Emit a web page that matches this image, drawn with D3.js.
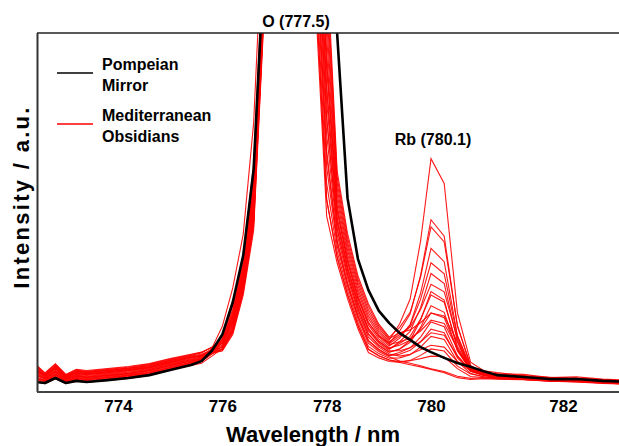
<!DOCTYPE html>
<html>
<head>
<meta charset="utf-8">
<script src="https://cdn.jsdelivr.net/npm/d3@7"></script>
<style>
  body { margin: 0; background: #fff; }
  text { font-family: Arial, "Liberation Sans", sans-serif; font-weight: bold; fill: #000; }
</style>
</head>
<body>
<div id="chart"></div>
<script>
// wavelength grid (nm)
const wavelength = [772.4, 772.6, 772.8, 773.0, 773.2, 773.4, 773.8, 774.2, 774.6, 775.0, 775.4, 775.6, 775.8,
  776.0, 776.2, 776.4, 776.6, 776.8, 777.0, 777.5, 777.8, 778.0, 778.2, 778.4, 778.6, 778.8, 779.0, 779.2,
  779.4, 779.6, 779.8, 780.0, 780.2, 780.4, 780.6, 780.8, 781.0, 781.4, 781.8, 782.2, 782.6, 783.0];

// Pompeian mirror spectrum
const mirror = [2.8, 2.5, 3.9, 2.5, 3.1, 2.8, 3.3, 3.9, 4.7, 6.1, 7.5, 8.6, 11.5,
  16, 25, 38, 62, 120, 220, 400, 230, 160, 100, 54, 37, 28.4, 22.6, 19.2,
  16.4, 14.5, 12.5, 11.1, 9.5, 8.1, 7.0, 5.8, 4.7, 4.2, 3.6, 3.6, 3.1, 2.8];

// Mediterranean obsidian spectra
const obsidians = [
  [5.4, 3.9, 5.9, 3.7, 4.7, 4.4, 4.9, 5.5, 6.3, 7.7, 9.0, 9.9, 12.0, 15.3, 23, 36.1, 61.1, 122.5, 250, 400, 171.5, 112.7, 58.4, 41.8, 30.5, 22.9, 17.8, 14.5, 19, 25.9, 42, 65, 58.1, 22.1, 8.3, 5.9, 5.4, 4.6, 3.9, 3.8, 3.4, 3.0],
  [7.4, 5.0, 7.4, 4.6, 5.9, 5.6, 6.1, 6.7, 7.5, 8.9, 10.2, 10.9, 12.5, 14.6, 21, 33.5, 56.5, 117.5, 250, 400, 162, 103.6, 55.2, 39.6, 28.6, 21.2, 16.6, 13.6, 17, 21.7, 32.5, 48, 43.4, 18.3, 7.4, 5.4, 5.1, 4.9, 4.0, 4.2, 3.6, 3.3],
  [4.1, 3.2, 4.9, 3.1, 3.9, 3.6, 4.1, 4.7, 5.5, 6.9, 8.2, 9.2, 11.7, 15.6, 24, 37.4, 63.4, 125, 250, 400, 181, 121.8, 61.6, 44.1, 32.3, 24.6, 18.9, 15.3, 18, 22.2, 32, 46, 41.8, 18.6, 7.2, 5.3, 5.0, 4.4, 3.7, 3.5, 3.2, 2.7],
  [6.4, 4.5, 6.7, 4.2, 5.3, 5.0, 5.5, 6.1, 6.9, 8.3, 9.6, 10.2, 11.9, 13.7, 20, 32.2, 54.2, 115, 250, 400, 152.5, 94.5, 52, 37.3, 26.8, 19.5, 15.4, 12.8, 15, 18.8, 27.5, 40, 36.3, 15.8, 7.0, 5.3, 4.8, 4.5, 3.9, 3.6, 3.4, 3.1],
  [8.0, 5.3, 7.9, 4.9, 6.3, 6.0, 6.5, 7.1, 7.9, 9.3, 10.5, 11.1, 12.4, 13.5, 19, 30.9, 51.9, 112.5, 250, 400, 143, 85.4, 48.8, 35, 25, 17.8, 14.2, 11.9, 14, 16.9, 23.5, 33, 30.2, 14.1, 6.6, 5.1, 4.9, 4.3, 4.1, 3.7, 3.3, 3.2],
  [4.8, 3.6, 5.4, 3.4, 4.3, 4.0, 4.5, 5.1, 5.9, 7.3, 8.6, 9.4, 11.5, 14.6, 22, 34.8, 58.8, 120, 250, 400, 166.8, 108.2, 56.8, 40.7, 29.6, 22.1, 17.2, 14, 16, 18.1, 23, 30, 27.9, 14.9, 6.3, 4.9, 4.4, 4.0, 3.4, 3.8, 3.0, 2.6],
  [6.7, 4.6, 6.9, 4.3, 5.5, 5.2, 5.7, 6.3, 7.1, 8.5, 9.7, 10.2, 11.5, 12.6, 18, 29.6, 49.6, 110, 250, 400, 133.5, 76.3, 45.6, 32.8, 23.1, 16.1, 13, 11.1, 12, 13.8, 18, 24, 22.2, 11.4, 6.2, 4.9, 4.6, 4.2, 3.3, 3.4, 2.9, 2.5],
  [3.5, 2.9, 4.4, 2.8, 3.5, 3.2, 3.7, 4.3, 5.1, 6.5, 7.8, 8.5, 10.7, 13.7, 21, 33.5, 56.5, 117.5, 250, 400, 147.8, 90, 50.4, 36.2, 25.9, 18.7, 14.8, 12.3, 13, 14.4, 17.5, 22, 20.7, 11.8, 6.0, 4.8, 4.3, 3.9, 3.2, 3.3, 2.8, 2.4],
  [6.1, 4.3, 6.4, 4.0, 5.1, 4.8, 5.3, 5.9, 6.7, 8.1, 9.2, 9.7, 11.0, 11.9, 17, 28.3, 47.3, 107.5, 250, 400, 124, 67.2, 42.4, 30.5, 21.3, 14.4, 11.9, 10.2, 11, 12.3, 15.3, 19.5, 18.2, 10.1, 6.0, 4.8, 4.2, 3.8, 3.5, 3.1, 3.0, 2.9],
  [4.4, 3.3, 5.1, 3.2, 4.1, 3.8, 4.3, 4.9, 5.7, 7.1, 8.3, 9.1, 11.2, 14.2, 21.5, 34.2, 57.7, 118.8, 250, 400, 157.3, 99, 53.6, 38.4, 27.7, 20.4, 16, 13.2, 14, 14.9, 17, 20, 19.1, 12.1, 5.9, 4.7, 4.5, 4.1, 3.6, 3.2, 3.1, 2.7],
  [7.0, 4.7, 7.1, 4.4, 5.7, 5.4, 5.9, 6.5, 7.3, 8.7, 9.8, 10.2, 11.2, 11.5, 16, 27, 45, 105, 250, 400, 114.5, 58.1, 39.2, 28.3, 19.4, 12.7, 10.7, 9.4, 9.5, 10.4, 12.5, 15.5, 14.6, 8.5, 5.9, 4.7, 4.1, 3.6, 3.1, 3.0, 2.6, 2.6],
  [3.8, 3.1, 4.7, 3.0, 3.7, 3.4, 3.9, 4.5, 5.3, 6.7, 7.9, 8.6, 10.6, 12.8, 19.5, 31.6, 53, 113.8, 250, 400, 138.3, 80.9, 47.2, 33.9, 24, 17, 13.6, 11.5, 11.5, 12.3, 14, 16.5, 15.8, 10, 5.8, 4.6, 4.0, 3.7, 3.4, 3.0, 2.7, 2.3],
  [5.7, 4.0, 6.1, 3.8, 4.9, 4.6, 5.1, 5.7, 6.5, 7.9, 9.0, 9.4, 10.7, 11.5, 16.5, 27.7, 46.2, 106.3, 250, 400, 105, 49, 36, 26, 17.6, 11, 9.5, 8.5, 8.3, 8.8, 10.2, 12, 11.4, 7.2, 5.0, 4.3, 3.9, 3.5, 3.0, 2.9, 2.5, 2.2],
  [3.1, 2.6, 4.1, 2.6, 3.3, 3.0, 3.5, 4.1, 4.9, 6.3, 7.4, 8.0, 10.0, 12.1, 18.5, 30.3, 50.8, 111.3, 250, 400, 128.8, 71.8, 44, 31.7, 22.2, 15.3, 12.5, 10.6, 10, 10.5, 11.8, 13, 12.5, 8.5, 5.2, 4.2, 3.8, 3.6, 3.3, 3.1, 2.7, 2.5],
  [5.1, 3.8, 5.7, 3.6, 4.5, 4.2, 4.7, 5.3, 6.1, 7.5, 8.7, 9.2, 10.7, 11.9, 17.5, 29, 48.5, 108.8, 250, 400, 109.8, 53.6, 37.6, 27.1, 18.5, 11.9, 10.1, 8.9, 8.2, 7.6, 7.0, 6.3, 5.4, 4.0, 3.5, 3.7, 3.6, 3.4, 3.0, 2.8, 2.4, 2.1],
  [2.9, 2.3, 3.7, 2.4, 3.0, 2.7, 3.2, 3.8, 4.6, 6.1, 7.6, 8.9, 12.2, 18.3, 29, 43.9, 74.9, 137.5, 250, 400, 119.3, 62.7, 40.8, 29.4, 20.4, 13.6, 11.3, 9.8, 8.6, 8.0, 7.3, 6.5, 5.7, 4.4, 3.8, 3.9, 3.7, 3.5, 3.1, 2.9, 2.5, 2.2],
  [7.7, 5.2, 7.7, 4.8, 6.1, 5.8, 6.3, 6.9, 7.7, 9.1, 10.4, 11.0, 12.5, 14.0, 20, 32.2, 54.2, 115, 250, 400, 150, 92, 51, 36.5, 26.2, 19.2, 15.6, 13.5, 15.5, 18.6, 25.8, 36, 32.9, 15.5, 6.7, 5.1, 4.9, 4.4, 4.0, 3.8, 3.3, 3.0],
  [6.2, 4.3, 6.5, 4.1, 5.2, 4.9, 5.4, 6.0, 6.8, 8.2, 9.4, 10.0, 11.5, 13.1, 19, 30.9, 51.9, 112.5, 250, 400, 141, 84, 48, 34.5, 24.6, 17.5, 14, 12, 13.5, 15.5, 20.3, 27, 25, 12.8, 6.3, 4.9, 4.6, 4.2, 3.6, 3.5, 3.1, 2.8],
  [4.9, 3.6, 5.5, 3.5, 4.4, 4.1, 4.6, 5.2, 6.0, 7.4, 8.6, 9.3, 11.3, 13.7, 20.5, 32.9, 55.4, 116.3, 250, 400, 176.3, 117.3, 60, 43, 31.4, 23.8, 18.4, 14.9, 16.5, 17.3, 19.3, 22, 21.2, 14, 5.8, 4.7, 4.6, 4.1, 3.7, 3.6, 3.2, 2.8],
  [7.2, 4.9, 7.3, 4.5, 5.8, 5.5, 6.0, 6.6, 7.4, 8.8, 10.0, 10.5, 11.7, 12.4, 17.5, 29, 48.5, 108.8, 250, 400, 122, 66, 41.8, 30, 21, 14.2, 11.7, 10.1, 10.5, 11.6, 14, 17.5, 16.5, 9.5, 5.9, 4.7, 4.3, 3.9, 3.4, 3.2, 2.8, 2.6],
  [4.0, 3.1, 4.8, 3.0, 3.8, 3.5, 4.0, 4.6, 5.4, 6.8, 8.1, 9.0, 11.3, 14.7, 22.5, 35.5, 60, 121, 250, 400, 133.5, 76.3, 45.6, 32.8, 23.1, 16.1, 13, 11.1, 12, 14.4, 20, 28, 25.6, 12, 6.5, 5.0, 4.8, 4.3, 3.8, 3.5, 3.2, 2.9],
  [6.6, 4.5, 6.8, 4.2, 5.4, 5.1, 5.6, 6.2, 7.0, 8.4, 9.6, 10.0, 11.3, 12.0, 17, 28.3, 47.3, 107.5, 250, 400, 109.8, 53.6, 37.6, 27.1, 18.5, 11.9, 10.1, 8.9, 8.5, 8.7, 9.3, 10, 9.8, 6.5, 4.3, 4.0, 3.8, 3.5, 3.2, 3.0, 2.6, 2.4]
];

const xTicks = [774, 776, 778, 780, 782];
const legendItems = [
  {lines: ["Pompeian", "Mirror"], color: "#000"},
  {lines: ["Mediterranean", "Obsidians"], color: "#ff0000"}
];

const W = 619, H = 446;
const plot = {left: 37, top: 33, right: 619, bottom: 392};

const svg = d3.select("#chart").append("svg")
  .attr("width", W)
  .attr("height", H);

// tick labels in the figure are not evenly spaced past 780, so use a piecewise scale
const x = d3.scaleLinear()
  .domain([774, 780, 782])
  .range([118, 431, 563]);

const y = d3.scaleLinear()
  .domain([0, 100])
  .range([plot.bottom, plot.top]);

svg.append("clipPath").attr("id", "clip")
  .append("rect")
  .attr("x", plot.left + 1)
  .attr("y", plot.top)
  .attr("width", plot.right - plot.left)
  .attr("height", plot.bottom - plot.top);

const line = d3.line()
  .x((d, i) => x(wavelength[i]))
  .y(d => y(d));

const g = svg.append("g").attr("clip-path", "url(#clip)");

g.selectAll(".obs")
  .data(obsidians)
  .join("path")
  .attr("class", "obs")
  .attr("d", line)
  .attr("fill", "none")
  .attr("stroke", "#ff0000")
  .attr("stroke-width", 1.1)
  .attr("stroke-opacity", 0.9);

g.append("path")
  .attr("d", line(mirror))
  .attr("fill", "none")
  .attr("stroke", "#000")
  .attr("stroke-width", 2.6)
  .attr("stroke-linejoin", "round");

// frame: top and left
svg.append("line")
  .attr("x1", plot.left).attr("x2", plot.right)
  .attr("y1", plot.top).attr("y2", plot.top)
  .attr("stroke", "#222").attr("stroke-width", 1.5);
svg.append("line")
  .attr("x1", plot.left + 0.5).attr("x2", plot.left + 0.5)
  .attr("y1", plot.top).attr("y2", plot.bottom)
  .attr("stroke", "#333").attr("stroke-width", 2);

// x axis
const xAxis = svg.append("g")
  .attr("transform", `translate(0, ${plot.bottom})`)
  .call(d3.axisBottom(x).tickValues(xTicks).tickSize(0).tickPadding(8).tickFormat(d3.format("d")));
xAxis.select(".domain").remove();
xAxis.selectAll("text")
  .style("font-size", "17px")
  .style("font-family", "Arial, 'Liberation Sans', sans-serif")
  .style("font-weight", "bold")
  .attr("fill", "#000");

svg.append("line")
  .attr("x1", plot.left).attr("x2", plot.right)
  .attr("y1", plot.bottom).attr("y2", plot.bottom)
  .attr("stroke", "#444").attr("stroke-width", 2.2);

// axis titles
svg.append("text")
  .attr("x", 313).attr("y", 442)
  .attr("text-anchor", "middle")
  .style("font-size", "22px")
  .text("Wavelength / nm");

svg.append("text")
  .attr("transform", "translate(29, 197) rotate(-90)")
  .attr("text-anchor", "middle")
  .style("font-size", "22px")
  .style("letter-spacing", "2.3px")
  .text("Intensity / a.u.");

// peak labels
svg.append("text")
  .attr("x", 296).attr("y", 27)
  .attr("text-anchor", "middle")
  .style("font-size", "16px")
  .text("O (777.5)");

svg.append("text")
  .attr("x", 433).attr("y", 145)
  .attr("text-anchor", "middle")
  .style("font-size", "16px")
  .text("Rb (780.1)");

// legend
const legend = svg.append("g");
legendItems.forEach((item, i) => {
  const base = 70 + i * 51;
  legend.append("line")
    .attr("x1", 57).attr("x2", 93)
    .attr("y1", base + 3).attr("y2", base + 3)
    .attr("stroke", item.color)
    .attr("stroke-width", 1.6);
  item.lines.forEach((t, j) => {
    legend.append("text")
      .attr("x", 102)
      .attr("y", base + j * 21)
      .style("font-size", "16px")
      .text(t);
  });
});
</script>
</body>
</html>
